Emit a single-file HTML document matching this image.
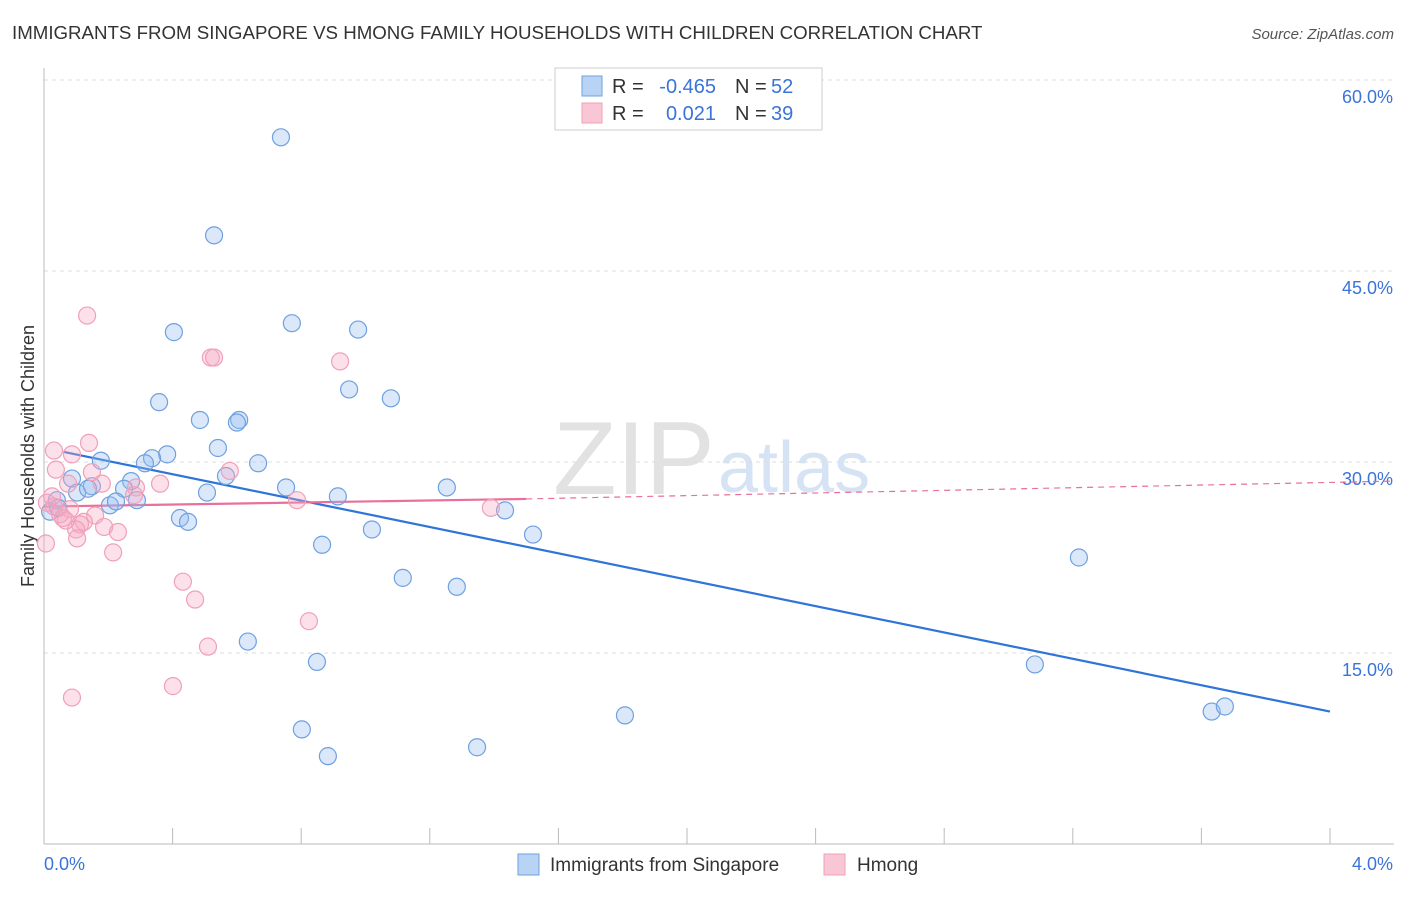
<!DOCTYPE html>
<html><head><meta charset="utf-8"><style>
body{margin:0;background:#fff;font-family:"Liberation Sans",sans-serif}
svg text{font-family:"Liberation Sans",sans-serif}
</style></head><body>
<svg id="c" width="1406" height="892" xmlns="http://www.w3.org/2000/svg">
<text x="12" y="39" font-size="18.7" fill="#333">IMMIGRANTS FROM SINGAPORE VS HMONG FAMILY HOUSEHOLDS WITH CHILDREN CORRELATION CHART</text>
<text x="1394" y="39" font-size="15" fill="#555" font-style="italic" text-anchor="end">Source: ZipAtlas.com</text>
<text x="553" y="494" font-size="104" fill="#e2e2e2" font-family="Liberation Serif">ZIP</text>
<text x="718" y="492" font-size="72" fill="#d6e3f5">atlas</text>
<text transform="translate(34,456) rotate(-90)" font-size="18" fill="#333" text-anchor="middle">Family Households with Children</text>
<g id="grid"></g><g id="axes"></g><g id="trend"></g><g id="pts"></g>
<g>
<rect x="555" y="68" width="267" height="62" fill="#fff" stroke="#ccc"/>
<rect x="582" y="76" width="20" height="20" fill="#b9d3f5" stroke="#6fa0e0"/>
<rect x="582" y="103" width="20" height="20" fill="#f9c6d6" stroke="#f0a0b8"/>
<text x="612" y="93" font-size="20" fill="#333">R =</text>
<text x="716" y="93" font-size="20" fill="#3a74d8" text-anchor="end">-0.465</text>
<text x="735" y="93" font-size="20" fill="#333">N =</text>
<text x="771" y="93" font-size="20" fill="#3a74d8">52</text>
<text x="612" y="120" font-size="20" fill="#333">R =</text>
<text x="716" y="120" font-size="20" fill="#3a74d8" text-anchor="end">0.021</text>
<text x="735" y="120" font-size="20" fill="#333">N =</text>
<text x="771" y="120" font-size="20" fill="#3a74d8">39</text>
</g>
<g>
<rect x="518" y="854" width="21" height="21" fill="#b9d3f5" stroke="#6fa0e0"/>
<text x="550" y="871" font-size="19" fill="#333">Immigrants from Singapore</text>
<rect x="824" y="854" width="21" height="21" fill="#f9c6d6" stroke="#f0a0b8"/>
<text x="857" y="871" font-size="19" fill="#333">Hmong</text>
</g>
</svg>
<script>
const blueX=[0.737,0.529,0.404,0.771,0.977,0.949,1.079,0.358,0.485,0.607,0.600,0.541,0.383,0.336,0.314,0.177,0.666,0.566,0.271,0.149,0.087,0.103,0.137,0.249,0.507,0.753,1.253,0.914,0.289,0.205,0.224,0.040,0.019,0.044,1.434,0.423,0.448,1.020,1.521,0.865,3.219,1.116,1.284,0.634,0.849,3.082,1.807,3.632,3.673,0.802,0.883,1.347];
const blueY=[55.5,47.8,40.2,40.9,40.4,35.7,35.0,34.7,33.3,33.3,33.1,31.1,30.6,30.3,29.9,30.1,29.9,28.9,28.5,28.1,28.7,27.6,27.9,27.9,27.6,28.0,28.0,27.3,27.0,26.6,26.9,27.0,26.1,26.4,26.2,25.6,25.3,24.7,24.3,23.5,22.5,20.9,20.2,15.9,14.3,14.1,10.1,10.4,10.8,9.0,6.9,7.6];
const pinkX=[0.134,0.519,0.529,0.921,0.140,0.031,0.087,0.037,0.149,0.578,0.361,0.075,0.180,0.286,0.280,0.787,0.009,0.031,0.050,0.081,1.390,0.159,0.059,0.124,0.112,0.187,0.100,0.230,0.103,0.006,0.215,0.432,0.470,0.824,0.510,0.401,0.087,0.025,0.068];
const pinkY=[41.5,38.2,38.2,37.9,31.5,30.9,30.6,29.4,29.2,29.3,28.3,28.3,28.3,28.0,27.4,27.0,26.8,26.5,25.9,26.3,26.4,25.8,25.6,25.3,25.1,24.9,24.7,24.5,24.0,23.6,22.9,20.6,19.2,17.5,15.5,12.4,11.5,27.3,25.4];
const yTicks=[15,30,45,60];
const yTickLabels=["15.0%","30.0%","45.0%","60.0%"];
const blueTrend=[[0.06,30.8],[4.0,10.4]];
const pinkTrendSolid=[[0.0,26.5],[1.5,27.1]];
const pinkTrendDash=[[1.5,27.1],[4.2,28.5]];
const NS='http://www.w3.org/2000/svg';
const X=v=>44+v/4*1286, Y=v=>844-v/60*764;
function mk(tag,attrs,parent){const e=document.createElementNS(NS,tag);for(const k in attrs)e.setAttribute(k,attrs[k]);document.getElementById(parent).appendChild(e);return e;}
yTicks.forEach((t,i)=>{
 const l=mk('line',{x1:44,x2:1394,y1:Y(t),y2:Y(t),stroke:'#ddd','stroke-dasharray':'4,4'},'grid');
 
 
 const tx=mk('text',{x:1393,y:Y(t)+23,'font-size':18,fill:'#3a74d8','text-anchor':'end'},'grid');
 tx.textContent=yTickLabels[i];
 
 
});
let ax=mk('line',{x1:44,x2:44,y1:68,y2:844,stroke:'#bbb'},'axes');


ax=mk('line',{x1:44,x2:1394,y1:844,y2:844,stroke:'#bbb'},'axes');


for(let i=1;i<=10;i++){const tk=mk('line',{x1:X(i*0.4),x2:X(i*0.4),y1:828,y2:844,stroke:'#bbb'},'axes');
 
 }
let xl=mk('text',{x:44,y:870,'font-size':18,fill:'#3a74d8'},'axes');xl.textContent='0.0%';


xl=mk('text',{x:1393,y:870,'font-size':18,fill:'#3a74d8','text-anchor':'end'},'axes');xl.textContent='4.0%';


function line(p,color,dash,name){const l=mk('line',{x1:X(p[0][0]),y1:Y(p[0][1]),x2:X(p[1][0]),y2:Y(p[1][1]),stroke:color,'stroke-width':dash?1.2:2.2},'trend');if(dash)l.setAttribute('stroke-dasharray','6,5');
 
 }
blueX.forEach((x,i)=>{const c=mk('circle',{cx:X(x),cy:Y(blueY[i]),r:8.5,fill:'rgba(150,190,240,0.35)',stroke:'#6fa0e0','stroke-width':1.2},'pts');
 
 });
pinkX.forEach((x,i)=>{const c=mk('circle',{cx:X(x),cy:Y(pinkY[i]),r:8.5,fill:'rgba(245,170,195,0.35)',stroke:'#f0a0b8','stroke-width':1.2},'pts');
 
 });
line(blueTrend,'#2f74d8',false,'singapore-trend-line');
line(pinkTrendSolid,'#e8709a',false,'hmong-trend-line');
line(pinkTrendDash,'#e8709a',true,'hmong-trend-extension');
</script>
</body></html>
